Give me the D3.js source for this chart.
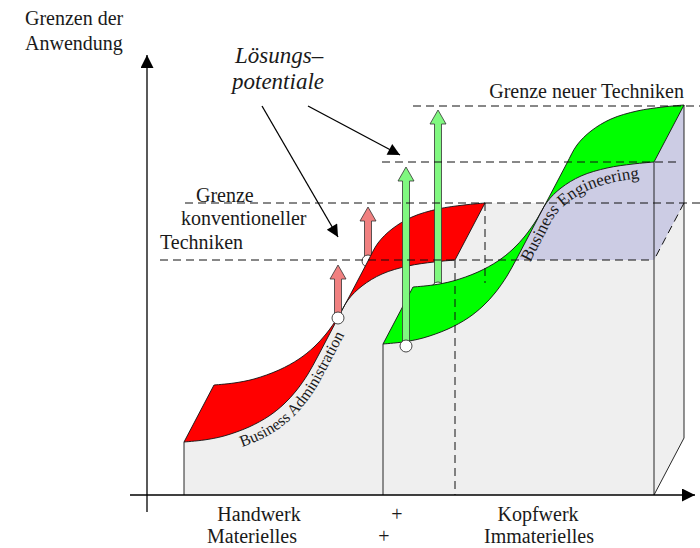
<!DOCTYPE html>
<html>
<head>
<meta charset="utf-8">
<script src="https://cdn.jsdelivr.net/npm/d3@7"></script>
<style>
  body { margin: 0; background: #fff; }
  svg { display: block; }
  text { fill: #1a1a1a; }
</style>
</head>
<body>
<div id="chart"></div>
<script>
// S-Verlauf der Anwendungsgrenze, relativ zum Kurvenanfang (x nach rechts, y nach oben)
const sCurve = [[0,0],[20,2],[40,6],[65,15],[85,26],[100,38],[112,51],[124,68],[134,86],[144,105],
                [154,124],[164,142],[178,156],[198,168],[224,176],[250,180],[271,182]];
// Anfang der vorderen Kurve je Stufe: Handwerk, Kopfwerk
const stepStarts = [[37,53],[236,151]];
const stepColors = ["#ff0000", "#00ff00"];
const depth = [30,57];
// Grenzen (Höhe) mit Ausdehnung der gestrichelten Linie
const limitLines = [
  { v: 235, from: 13, to: 507 },
  { v: 292, from: 38, to: 553 },
  { v: 333, from: 235, to: 529 },
  { v: 389, from: 266, to: 553 }
];
// Lösungspotentiale: x, Startpunkt (Kreis), Spitze
const potArrows = [
  { x: 221, from: 234, to: 288, color: "#f08080", step: 0 },
  { x: 191, from: 177, to: 230, color: "#f08080", step: 0 },
  { x: 291, from: 207, to: 385, color: "#80f880", step: 1 },
  { x: 259, from: 149, to: 328, color: "#80f880", step: 1 }
];
const pointerArrows = [[[115,389],[191,258]], [[161,389],[253,340]]];
const yLabel = ["Grenzen der", "Anwendung"];
const xLabels = [["Handwerk", "+", "Kopfwerk"], ["Materielles", "+", "Immaterielles"]];

const width = 700, height = 548;
const x = d3.scaleLinear().domain([0, 548]).range([147, 695]);
const y = d3.scaleLinear().domain([0, 440]).range([495, 55]);

const svg = d3.select("#chart").append("svg")
    .attr("width", width)
    .attr("height", height)
    .attr("font-family", "'Liberation Serif', 'DejaVu Serif', serif");

const defs = svg.append("defs");
function marker(id, w, h) {
    defs.append("marker")
        .attr("id", id)
        .attr("viewBox", "0 0 10 10")
        .attr("refX", 10).attr("refY", 5)
        .attr("markerUnits", "userSpaceOnUse")
        .attr("markerWidth", w).attr("markerHeight", h)
        .attr("orient", "auto")
        .append("path").attr("d", "M0,0L10,5L0,10Z").attr("fill", "#000");
}
marker("axisHead", 17, 13);
marker("ptrHead", 18, 12);

defs.append("clipPath").attr("id", "aboveLimit")
    .append("rect").attr("x", 0).attr("y", 0).attr("width", width).attr("height", y(235));

const line = d3.line().x(d => x(d[0])).y(d => y(d[1])).curve(d3.curveCatmullRom.alpha(0.5));
const poly = pts => "M" + pts.map(d => x(d[0]) + "," + y(d[1])).join("L");
const curvePts = (s, off = [0,0]) => sCurve.map(([dx, dy]) => [s[0] + dx + off[0], s[1] + dy + off[1]]);

const front = stepStarts.map(s => curvePts(s));
const back = stepStarts.map(s => curvePts(s, depth));
const endOf = pts => pts[pts.length - 1];

const gray = "#efefef";
const stroke = "#111";

// Block Handwerk (Vorderseite)
const e0 = endOf(front[0]), e1 = endOf(front[1]);
svg.append("path")
    .attr("d", poly([[stepStarts[0][0], 0]]) + "L" + line(front[0]).slice(1) + "L" + x(e0[0]) + "," + y(0) + "Z")
    .attr("fill", gray);
// Seitenfläche / Schicht der konventionellen Grenze
svg.append("path")
    .attr("d", poly([[e0[0] + depth[0], e0[1] + depth[1]], [e1[0] + depth[0], e0[1] + depth[1]],
                     [e1[0] + depth[0], depth[1]], [e1[0], 0], [e0[0], 0], e0]) + "Z")
    .attr("fill", gray);
// Block Kopfwerk
svg.append("path")
    .attr("d", poly([[stepStarts[1][0], 0]]) + "L" + line(front[1]).slice(1) +
        "L" + x(e1[0] + depth[0]) + "," + y(e1[1] + depth[1]) +
        "L" + x(e1[0] + depth[0]) + "," + y(depth[1]) +
        "L" + x(e1[0]) + "," + y(0) + "Z")
    .attr("fill", gray);

// Business Engineering (über der konventionellen Grenze)
svg.append("path")
    .attr("clip-path", "url(#aboveLimit)")
    .attr("d", line(front[1]) +
        "L" + x(e1[0] + depth[0]) + "," + y(e1[1] + depth[1]) +
        "L" + x(e1[0] + depth[0]) + "," + y(e0[1] + depth[1]) +
        "L" + x(e1[0]) + "," + y(e0[1]) +
        "L" + x(stepStarts[1][0]) + "," + y(e0[1]) + "Z")
    .attr("fill", "#ccccE4");

function drawArrow(a) {
    const g = svg.append("g");
    const cx = x(a.x), yb = y(a.from), yt = y(a.to), hb = yt + 14;
    g.append("path")
        .attr("d", `M${cx - 3.5},${yb}L${cx - 3.5},${hb}L${cx - 8},${hb}L${cx},${yt}L${cx + 8},${hb}L${cx + 3.5},${hb}L${cx + 3.5},${yb}Z`)
        .attr("fill", a.color)
        .attr("stroke", "#333")
        .attr("stroke-width", 0.8);
    g.append("circle")
        .attr("cx", cx).attr("cy", yb).attr("r", 6)
        .attr("fill", "#fff").attr("stroke", "#333").attr("stroke-width", 0.9);
}

function ribbon(i) {
    const f = front[i], b = back[i].slice().reverse();
    svg.append("path")
        .attr("d", line(f) + "L" + line(b).slice(1) + "Z")
        .attr("fill", stepColors[i])
        .attr("stroke", stroke)
        .attr("stroke-width", 0.9)
        .attr("stroke-linejoin", "round");
}

drawArrow(potArrows[0]);
ribbon(0);
drawArrow(potArrows[1]);
drawArrow(potArrows[2]);
ribbon(1);
drawArrow(potArrows[3]);

// sichtbare Kanten
const edges = [
    [[stepStarts[0][0], 0], stepStarts[0]],
    [[stepStarts[1][0], 0], stepStarts[1]],
    [[e1[0], 0], e1],
    [[e1[0] + depth[0], e1[1] + depth[1]], [e1[0] + depth[0], depth[1]], [e1[0], 0]]
];
svg.selectAll(".edge").data(edges).enter().append("path")
    .attr("class", "edge")
    .attr("d", d => poly(d))
    .attr("fill", "none")
    .attr("stroke", stroke)
    .attr("stroke-width", 0.9);

// gestrichelte Linien
const dashed = limitLines.map(l => [[l.from, l.v], [l.to, l.v]]).concat([
    [[e0[0], e0[1]], [e0[0], 0]],
    [[e0[0] + depth[0], e0[1] + depth[1]], [e0[0] + depth[0], 212]],
    [[e1[0] + depth[0], e0[1] + depth[1]], [e1[0], e0[1]]]
]);
svg.selectAll(".dash").data(dashed).enter().append("path")
    .attr("class", "dash")
    .attr("d", d => poly(d))
    .attr("fill", "none")
    .attr("stroke", "#111")
    .attr("stroke-width", 1)
    .attr("stroke-dasharray", "8,5");

// Achsen
svg.append("line")
    .attr("x1", x(0)).attr("y1", y(-17)).attr("x2", x(0)).attr("y2", y(440))
    .attr("stroke", "#000").attr("stroke-width", 1.3).attr("marker-end", "url(#axisHead)");
svg.append("line")
    .attr("x1", x(-17)).attr("y1", y(0)).attr("x2", x(548)).attr("y2", y(0))
    .attr("stroke", "#000").attr("stroke-width", 1.3).attr("marker-end", "url(#axisHead)");

// Zeiger auf Lösungspotentiale
svg.selectAll(".ptr").data(pointerArrows).enter().append("line")
    .attr("class", "ptr")
    .attr("x1", d => x(d[0][0])).attr("y1", d => y(d[0][1]))
    .attr("x2", d => x(d[1][0])).attr("y2", d => y(d[1][1]))
    .attr("stroke", "#000").attr("stroke-width", 1.3)
    .attr("marker-end", "url(#ptrHead)");

// Beschriftung entlang der Kurven
const labelPaths = [
    { id: "baPath", step: 0, text: "Business Administration", startX: 242, size: 16 },
    { id: "bePath", step: 1, text: "Business Engineering", startX: 530, size: 17 }
];
labelPaths.forEach(p => {
    const path = defs.append("path")
        .attr("id", p.id)
        .attr("d", line(curvePts(stepStarts[p.step], [8, -14])));
    const node = path.node();
    const L = node.getTotalLength();
    let off = 0;
    for (let l = 0; l <= L; l += 0.5) {
        if (node.getPointAtLength(l).x >= p.startX) { off = l; break; }
    }
    svg.append("text")
        .style("font-size", p.size + "px")
        .append("textPath")
        .attr("href", "#" + p.id)
        .attr("startOffset", off)
        .text(p.text);
});

// Texte
svg.selectAll(".ylab").data(yLabel).enter().append("text")
    .attr("x", 25).attr("y", (d, i) => 25 + i * 25)
    .style("font-size", "20px")
    .text(d => d);

svg.selectAll(".loes").data(["Lösungs–", "potentiale"]).enter().append("text")
    .attr("x", (d, i) => i ? 232 : 235).attr("y", (d, i) => 63 + i * 26)
    .style("font-size", "23px").style("font-style", "italic")
    .text(d => d);

const konv = [["Grenze", 196, 202], ["konventioneller", 181, 225], ["Techniken", 160, 249]];
svg.selectAll(".konv").data(konv).enter().append("text")
    .attr("x", d => d[1]).attr("y", d => d[2])
    .style("font-size", "20px")
    .text(d => d[0]);

svg.append("text")
    .attr("x", 684).attr("y", 98)
    .attr("text-anchor", "end")
    .style("font-size", "20px")
    .text("Grenze neuer Techniken");

const colX = [[259, 397, 538], [252, 384, 539]];
xLabels.forEach((row, r) => {
    svg.selectAll(".xl" + r).data(row).enter().append("text")
        .attr("x", (d, i) => colX[r][i]).attr("y", 521 + r * 22)
        .attr("text-anchor", "middle")
        .style("font-size", "20px")
        .text(d => d);
});
</script>
</body>
</html>
